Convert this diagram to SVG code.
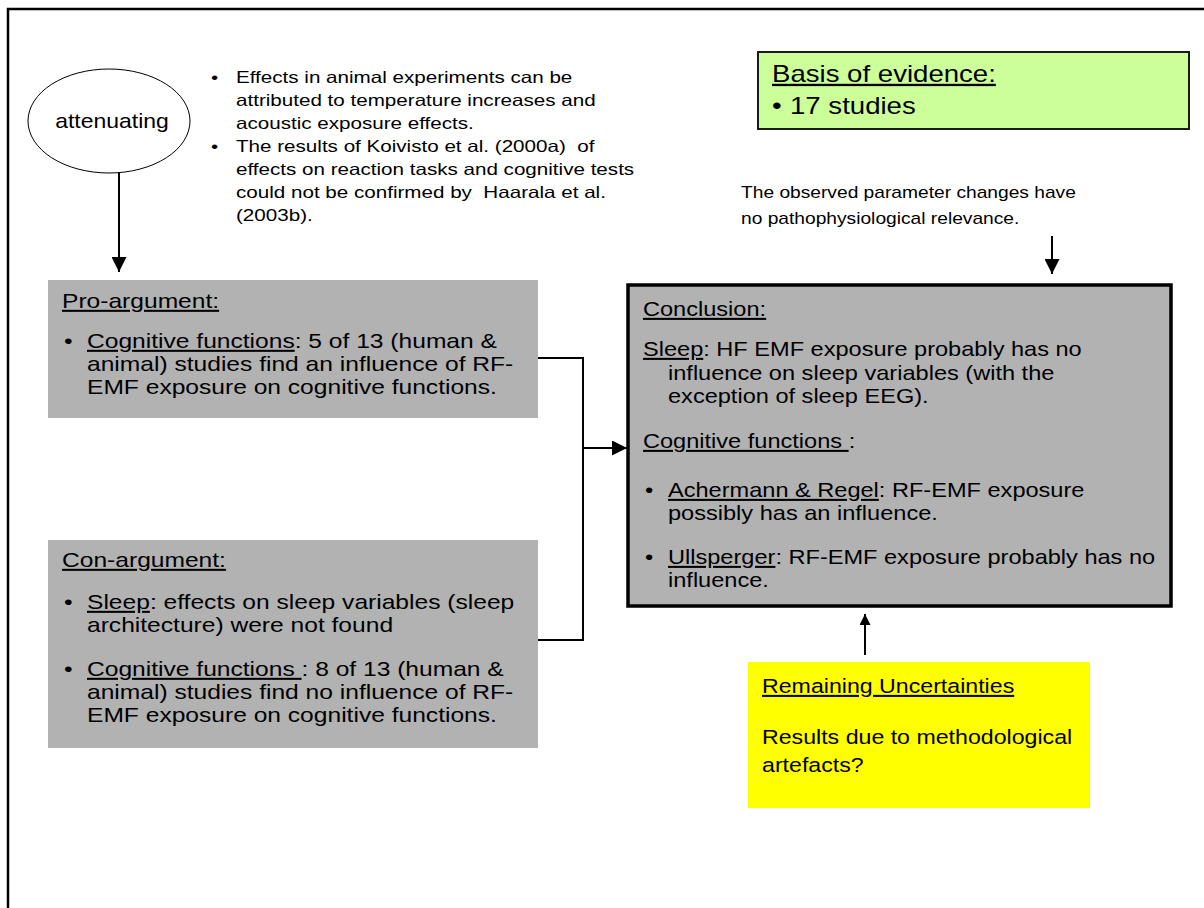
<svg xmlns="http://www.w3.org/2000/svg" width="1204" height="908" viewBox="0 0 1204 908">
  <style>
    text { font-family: "Liberation Sans", Arial, sans-serif; fill: #000; white-space: pre; }
    .note { font-size: 16.5px; }
    .small { font-size: 16px; }
    .body { font-size: 20.5px; }
    .big { font-size: 23px; }
    .u { text-decoration: underline; }
    .grey { fill: #b2b2b2; }
    .line { stroke: #000; stroke-width: 2; fill: none; }
  </style>
  <defs>
    <marker id="head" viewBox="0 0 10 10" refX="10" refY="5" markerWidth="15" markerHeight="15" markerUnits="userSpaceOnUse" orient="auto">
      <path d="M0,0 L10,5 L0,10 z" fill="#000"/>
    </marker>
    <marker id="head-small" viewBox="0 0 10 10" refX="10" refY="5" markerWidth="11" markerHeight="11" markerUnits="userSpaceOnUse" orient="auto">
      <path d="M0,0 L10,5 L0,10 z" fill="#000"/>
    </marker>
  </defs>

  <!-- page frame (only top and left edges fall inside the view) -->
  <rect x="8" y="9" width="1220" height="930" fill="#fff" stroke="#000" stroke-width="2.5"/>

  <!-- attenuating factor -->
  <g id="attenuating">
    <ellipse cx="109" cy="121" rx="81" ry="52" fill="#fff" stroke="#000" stroke-width="1"/>
    <text class="body" text-anchor="middle" transform="translate(112 128) scale(1.12 1)">attenuating</text>
  </g>

  <!-- attenuating notes -->
  <g id="attenuating-notes">
    <text class="note" transform="translate(211 83) scale(1.25 1)">•</text>
    <text class="note" transform="translate(236 83) scale(1.25 1)">Effects in animal experiments can be</text>
    <text class="note" transform="translate(236 106) scale(1.25 1)">attributed to temperature increases and</text>
    <text class="note" transform="translate(236 129) scale(1.25 1)">acoustic exposure effects.</text>
    <text class="note" transform="translate(211 152) scale(1.25 1)">•</text>
    <text class="note" transform="translate(236 152) scale(1.25 1)" xml:space="preserve">The results of Koivisto et al. (2000a)  of</text>
    <text class="note" transform="translate(236 175) scale(1.25 1)">effects on reaction tasks and cognitive tests</text>
    <text class="note" transform="translate(236 198) scale(1.25 1)" xml:space="preserve">could not be confirmed by  Haarala et al.</text>
    <text class="note" transform="translate(236 221) scale(1.25 1)">(2003b).</text>
  </g>

  <!-- basis of evidence -->
  <g id="evidence">
    <rect x="758" y="52" width="431" height="77" fill="#ccff99" stroke="#1a1a1a" stroke-width="2"/>
    <text class="big u" transform="translate(772 82) scale(1.2 1)">Basis of evidence:</text>
    <text class="big" transform="translate(772 114) scale(1.2 1)">•</text>
    <text class="big" transform="translate(790 114) scale(1.2 1)">17 studies</text>
  </g>

  <!-- relevance note -->
  <g id="relevance">
    <text class="small" transform="translate(741 198) scale(1.2 1)">The observed parameter changes have</text>
    <text class="small" transform="translate(741 224) scale(1.2 1)">no pathophysiological relevance.</text>
  </g>

  <!-- pro-argument -->
  <g id="pro">
    <rect class="grey" x="48" y="280" width="490" height="138"/>
    <text class="body u" transform="translate(62 308) scale(1.2 1)">Pro-argument:</text>
    <text class="body" transform="translate(64 348) scale(1.2 1)">•</text>
    <text class="body" transform="translate(87 348) scale(1.2 1)"><tspan class="u">Cognitive functions</tspan>: 5 of 13 (human &amp;</text>
    <text class="body" transform="translate(87 371) scale(1.2 1)">animal) studies find an influence of RF-</text>
    <text class="body" transform="translate(87 394) scale(1.2 1)">EMF exposure on cognitive functions.</text>
  </g>

  <!-- con-argument -->
  <g id="con">
    <rect class="grey" x="48" y="540" width="490" height="208"/>
    <text class="body u" transform="translate(62 567) scale(1.2 1)">Con-argument:</text>
    <text class="body" transform="translate(64 609) scale(1.2 1)">•</text>
    <text class="body" transform="translate(87 609) scale(1.2 1)"><tspan class="u">Sleep</tspan>: effects on sleep variables (sleep</text>
    <text class="body" transform="translate(87 632) scale(1.2 1)">architecture) were not found</text>
    <text class="body" transform="translate(64 676) scale(1.2 1)">•</text>
    <text class="body" transform="translate(87 676) scale(1.2 1)"><tspan class="u">Cognitive functions </tspan>: 8 of 13 (human &amp;</text>
    <text class="body" transform="translate(87 699) scale(1.2 1)">animal) studies find no influence of RF-</text>
    <text class="body" transform="translate(87 722) scale(1.2 1)">EMF exposure on cognitive functions.</text>
  </g>

  <!-- conclusion -->
  <g id="conclusion">
    <rect class="grey" x="628" y="285" width="543" height="321" stroke="#000" stroke-width="3.5"/>
    <text class="body u" transform="translate(643 316) scale(1.15 1)">Conclusion:</text>
    <text class="body" transform="translate(643 356) scale(1.15 1)"><tspan class="u">Sleep</tspan>: HF EMF exposure probably has no</text>
    <text class="body" transform="translate(668 380) scale(1.15 1)">influence on sleep variables (with the</text>
    <text class="body" transform="translate(668 403) scale(1.15 1)">exception of sleep EEG).</text>
    <text class="body" transform="translate(643 448) scale(1.15 1)"><tspan class="u">Cognitive functions </tspan>:</text>
    <text class="body" transform="translate(645 497) scale(1.15 1)">•</text>
    <text class="body" transform="translate(668 497) scale(1.15 1)"><tspan class="u">Achermann &amp; Regel</tspan>: RF-EMF exposure</text>
    <text class="body" transform="translate(668 520) scale(1.15 1)">possibly has an influence.</text>
    <text class="body" transform="translate(645 564) scale(1.15 1)">•</text>
    <text class="body" transform="translate(668 564) scale(1.15 1)"><tspan class="u">Ullsperger</tspan>: RF-EMF exposure probably has no</text>
    <text class="body" transform="translate(668 587) scale(1.15 1)">influence.</text>
  </g>

  <!-- remaining uncertainties -->
  <g id="uncertainties">
    <rect x="748" y="662" width="342" height="146" fill="#ffff00"/>
    <text class="body u" transform="translate(762 693) scale(1.13 1)">Remaining Uncertainties</text>
    <text class="body" transform="translate(762 744) scale(1.13 1)">Results due to methodological</text>
    <text class="body" transform="translate(762 772) scale(1.13 1)">artefacts?</text>
  </g>

  <!-- connectors -->
  <g id="connectors">
    <line class="line" x1="119" y1="173" x2="119" y2="272" marker-end="url(#head)"/>
    <line class="line" x1="1052" y1="236" x2="1052" y2="274" marker-end="url(#head)"/>
    <path class="line" d="M538,358 H583 V640 H538"/>
    <line class="line" x1="583" y1="448" x2="627" y2="448" marker-end="url(#head)"/>
    <line class="line" x1="865" y1="655" x2="865" y2="614" stroke-width="1.5" marker-end="url(#head-small)"/>
  </g>
</svg>
